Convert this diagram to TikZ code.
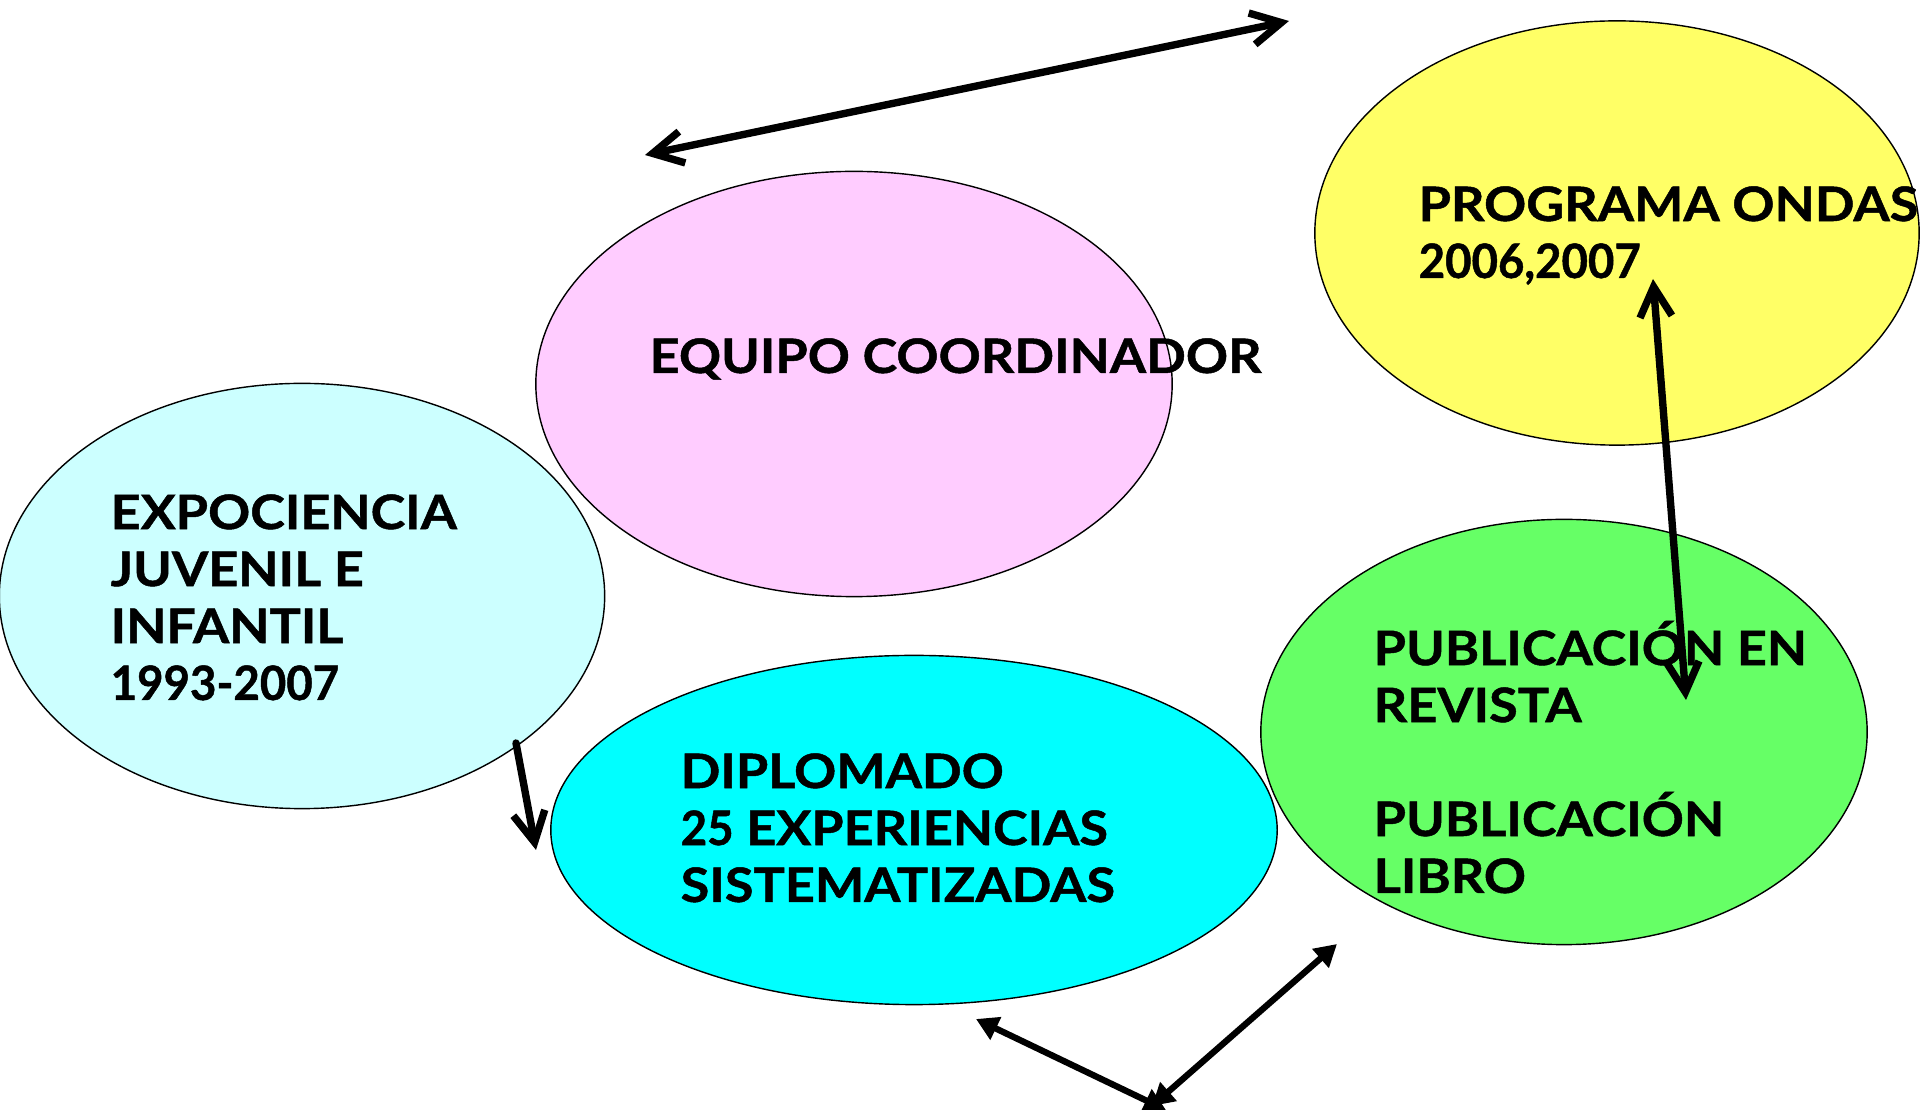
\documentclass[tikz,border=0pt]{standalone}
\usepackage{fontspec}
\setmainfont{Lato}[BoldFeatures={FakeStretch=1.1, FakeBold=1}]
\newfontfamily\numfont{Lato}[BoldFeatures={FakeStretch=0.96, FakeBold=1}]
\usetikzlibrary{shapes.geometric,arrows.meta}

\definecolor{pinkfill}{HTML}{FFCCFF}
\definecolor{yellowfill}{HTML}{FFFF66}
\definecolor{icefill}{HTML}{CCFFFF}
\definecolor{cyanfill}{HTML}{00FFFF}
\definecolor{greenfill}{HTML}{66FF66}

\begin{document}
\begin{tikzpicture}[x=0.01cm, y=-0.01cm,
        bubble/.style={ellipse, draw=black, thin, inner sep=0pt},
        bubbletext/.style={anchor=base west, align=left, inner sep=0pt,
            font=\fontsize{13.5}{16.2}\selectfont\bfseries},
        openarrow/.style={line width=2.1pt, line cap=round,
            {Straight Barb[length=3mm, width=3.2mm]}-{Straight Barb[length=3mm, width=3.2mm]}},
        filledarrow/.style={line width=1.8pt,
            {Triangle[length=2.2mm, width=2.4mm]}-{Triangle[length=2.2mm, width=2.4mm]}},
        ]
        \useasboundingbox (0,0) rectangle (1920,1110);

        % Bubbles
        \node[bubble, fill=pinkfill, minimum width=6.36cm, minimum height=4.25cm] (equipo) at (854,384) {};
        \node[bubble, fill=yellowfill, minimum width=6.04cm, minimum height=4.24cm] (ondas) at (1617,233) {};
        \node[bubble, fill=icefill, minimum width=6.05cm, minimum height=4.25cm] (expo) at (302,596) {};
        \node[bubble, fill=cyanfill, minimum width=7.26cm, minimum height=3.49cm] (diplomado) at (914,830) {};
        \node[bubble, fill=greenfill, minimum width=6.06cm, minimum height=4.25cm] (publica) at (1564,732) {};

        % Texts (base = last line)
        \node[bubbletext] (equipo-t) at (649,373) {EQUIPO COORDINADOR};
        \node[bubbletext] (ondas-t) at (1418,278) {PROGRAMA ONDAS\\{\numfont 2006,2007}};
        \node[bubbletext] (expo-t) at (110,700) {EXPOCIENCIA\\JUVENIL E\\INFANTIL\\{\numfont 1993-2007}};
        \node[bubbletext] (diplomado-t) at (680,902) {DIPLOMADO\\{\numfont 25} EXPERIENCIAS\\SISTEMATIZADAS};
        \node[bubbletext] (publica-t) at (1373,893) {PUBLICACIÓN EN\\REVISTA\\[16.2pt]PUBLICACIÓN\\LIBRO};

        % Arrow ends
        \coordinate (top-l) at (645,155);
        \coordinate (top-r) at (1289,21);
        \coordinate (ondas-a) at (1653,279);
        \coordinate (publica-a) at (1686,700);
        \coordinate (expo-a) at (516,743);
        \coordinate (diplomado-a) at (536,850);
        \coordinate (low-l) at (976,1019);
        \coordinate (low-m1) at (1166,1110);
        \coordinate (low-m2) at (1152,1106);
        \coordinate (low-r) at (1337,944);

        % Links
        \draw[openarrow] (top-l) -- (top-r);
        \draw[openarrow] (ondas-a) -- (publica-a);
        \draw[openarrow, -{Straight Barb[length=3mm, width=3.2mm]}] (expo-a) -- (diplomado-a);
        \draw[filledarrow] (low-l) -- (low-m1);
        \draw[filledarrow] (low-m2) -- (low-r);

    \end{tikzpicture}
\end{document}
